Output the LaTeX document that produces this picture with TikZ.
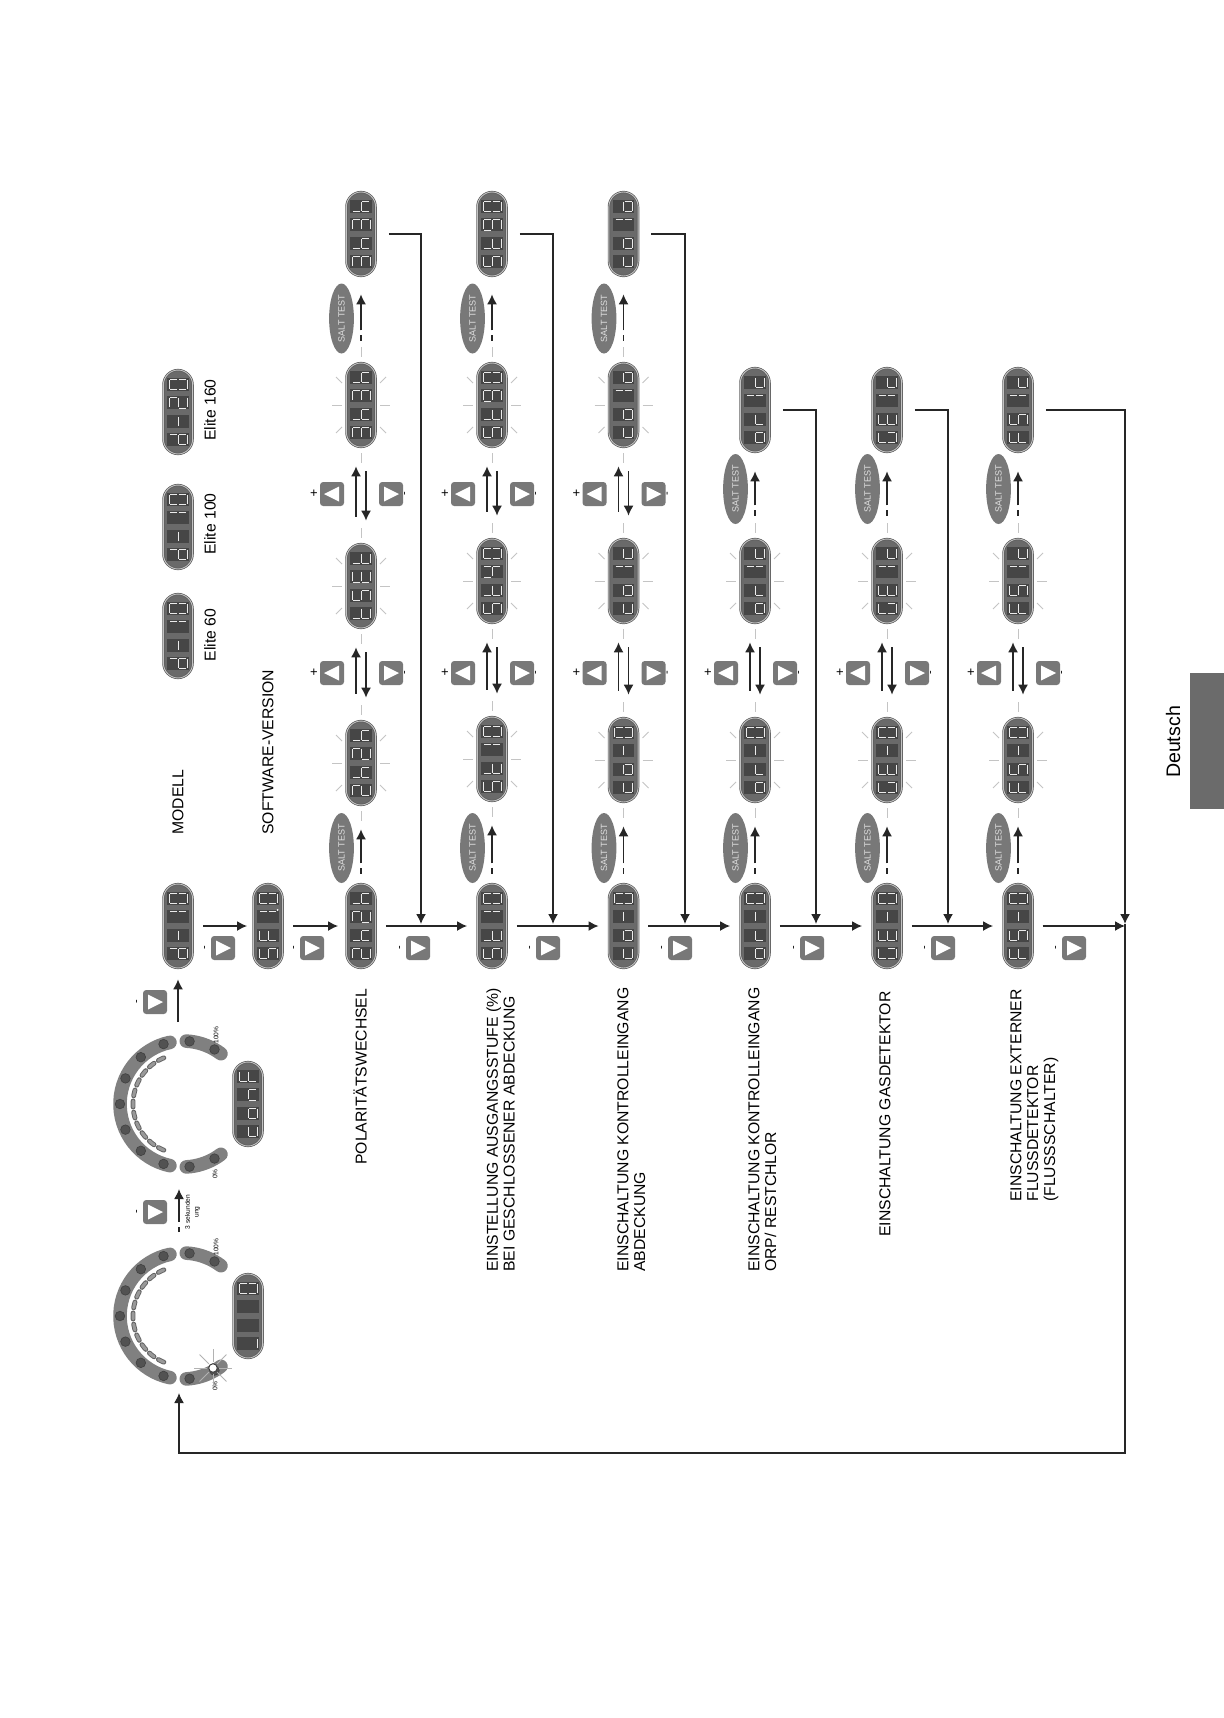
\documentclass[tikz,border=0pt]{standalone}
\usepackage{fontspec}
\setmainfont{Liberation Sans}
\usetikzlibrary{arrows.meta,shapes.geometric}

\definecolor{dispedge}{HTML}{5A5A5A}
\definecolor{dispring}{HTML}{C4C4C4}
\definecolor{dispbody}{HTML}{6A6A6A}
\definecolor{dispcell}{HTML}{464646}
\definecolor{btngrey}{HTML}{787878}
\definecolor{bandgrey}{HTML}{808080}
\definecolor{raygrey}{HTML}{C4C4C4}

\tikzset{
  dispnode/.style={rectangle,draw=dispedge,double=dispring,double distance=0.45pt,line width=0.35pt,
    fill=dispbody,rounded corners=7.4pt,minimum width=14.6pt,minimum height=42pt,inner sep=0pt},
  segline/.style={draw=white!92!black,line width=0.5pt},
  flashray/.style={draw=raygrey,line width=0.5pt},
  flowline/.style={-{Latex[length=5pt,width=5pt]},line width=0.75pt,draw=black!85},
  btnbox/.style={rectangle,fill=btngrey,rounded corners=1.6pt,minimum width=12pt,minimum height=12pt,inner sep=0pt},
  ticksym/.style={inner sep=0pt,font=\fontsize{5.5}{6}\selectfont},
  saltbtn/.style={ellipse,fill=btngrey,text=white!88!black,minimum width=35pt,minimum height=12.4pt,inner sep=0pt,
    rotate=90,font=\fontsize{4.5}{5}\selectfont},
  labeltext/.style={rotate=90,inner sep=0pt,align=left,font=\fontsize{7.87}{8.4}\selectfont},
  tinytext/.style={rotate=90,inner sep=0pt,align=center,font=\fontsize{3.3}{4.4}\selectfont},
  dialdot/.style={fill=black!68,draw=black!75,line width=0.3pt},
  dialband/.style={draw=bandgrey,line width=6.8pt,line cap=round}
}

% one segment of a digit; the page is turned, so the top of a digit points left
\def\sega{\draw[segline] (-9,-4.4) -- (-9,4.4);}
\def\segb{\draw[segline] (-8,-5.2) -- (-1,-5.2);}
\def\segc{\draw[segline] (1,-5.2) -- (8,-5.2);}
\def\segd{\draw[segline] (9,-4.4) -- (9,4.4);}
\def\sege{\draw[segline] (1,5.2) -- (8,5.2);}
\def\segf{\draw[segline] (-8,5.2) -- (-1,5.2);}
\def\segg{\draw[segline] (0,-4.4) -- (0,4.4);}
\newcommand{\segrun}[1]{\ifx#1\relax\else\csname seg#1\endcsname\expandafter\segrun\fi}

\def\sgzero{abcdef}
\def\sgone{bc}
\def\sgtwo{abged}
\def\sgthree{abgcd}
\def\sgfour{fgbc}
\def\sgfive{afgcd}
\def\sgnine{abcdfg}
\def\sgdash{g}
\def\sgE{afedg}
\def\sgF{afeg}
\def\sgG{afedc}
\def\sgh{fegc}
\def\sgt{fegd}
\def\sgd{bcdeg}
\def\sgc{ged}
\def\sgo{gcde}
\def\sgn{gec}
\def\sgr{eg}
\def\sgnone{}

\newcommand{\dcell}[3]{%
  \fill[dispcell] ({#1-10.6},{#2-6.4}) rectangle ({#1+10.6},{#2+6.4});
  \begin{scope}[shift={(#1,#2)}]\expandafter\segrun#3\relax\end{scope}}
\newcommand{\dispat}[7]{%
  \node[dispnode] (#1) at (#2,#3) {};
  \dcell{#2}{#3+27.5}{#4}\dcell{#2}{#3+9.2}{#5}\dcell{#2}{#3-9.2}{#6}\dcell{#2}{#3-27.5}{#7}}
\newcommand{\flashat}[7]{%
  \begin{scope}[shift={(#2,#3)}]
    \foreach \ux/\uy/\vx/\vy in {-29/0/-19/0,19/0/29/0,0/-58/0/-48,0/48/0/58,-25/-28/-19/-22,25/-28/19/-22,-25/28/-19/22,25/28/19/22}
      \draw[flashray] (\ux,\uy) -- (\vx,\vy);
  \end{scope}
  \dispat{#1}{#2}{#3}{#4}{#5}{#6}{#7}}

\newcommand{\btnright}[3]{%
  \node[btnbox] (#1) at (#2,#3) {};
  \fill[white] ({#2-7},{#3-7.5}) -- ({#2+8},#3) -- ({#2-7},{#3+7.5}) -- cycle;}
\newcommand{\btnleft}[3]{%
  \node[btnbox] (#1) at (#2,#3) {};
  \fill[white] ({#2+7},{#3-7.5}) -- ({#2-8},#3) -- ({#2+7},{#3+7.5}) -- cycle;}
% next-step button with its minus mark on the left
\newcommand{\nextbtn}[3]{%
  \btnright{#1}{#2}{#3}
  \node[ticksym,rotate=90] (#1tick) at ({#2-17},#3) {-};}
% up and down keys and the two arrows between two flashing displays
\newcommand{\gapstep}[4]{%
  \btnleft{#1#2up}{#3-29}{#4}
  \btnright{#1#2dn}{#3+30}{#4}
  \node[ticksym,font=\fontsize{6.5}{7}\selectfont] (#1#2plus) at ({#3-47},#4) {+};
  \node[ticksym,rotate=90] (#1#2minus) at ({#3+45},#4) {-};
  \draw[flowline,shorten <=13.5pt,shorten >=9.5pt] ([xshift=-2.5pt]#1.north) -- ([xshift=-2.5pt]#2.south);
  \draw[flowline,shorten <=12pt,shorten >=11.5pt] ([xshift=2.5pt]#2.south) -- ([xshift=2.5pt]#1.north);}
\newcommand{\saltstep}[6]{%
  \node[saltbtn] (#1#2salt) at ({#3-19.5},#4) {SALT TEST};
  \draw[flowline,dash pattern=on 2.6pt off 2.6pt on 40pt,shorten <=#5,shorten >=#6] (#1.north) -- (#2.south);}

\newcommand{\dialring}[1]{%
  \begin{scope}[shift={(183,#1)}]
    \draw[dialband] plot[domain=-78:78,samples=32] ({-63*cos(\x)},{-63*sin(\x)});
    \draw[dialband] plot[domain=93:127,samples=10] ({-63*cos(\x)},{-63*sin(\x)});
    \draw[dialband] plot[domain=-93:-127,samples=10] ({-63*cos(\x)},{-63*sin(\x)});
    \foreach \a in {-120,-96,-72,-48,-24,0,24,48,72,96,120}
      \filldraw[dialdot] ({-63*cos(\a)},{-63*sin(\a)}) circle (4.8);
    \foreach \a in {-64,-51.2,-38.4,-25.6,-12.8,0,12.8,25.6,38.4,51.2,64} {
      \draw[black!62,line width=2.4pt,line cap=round] plot[domain=\a-3.5:\a+3.5,samples=4] ({-50*cos(\x)},{-50*sin(\x)});
      \draw[black!40,line width=1.5pt,line cap=round] plot[domain=\a-3.5:\a+3.5,samples=4] ({-50*cos(\x)},{-50*sin(\x)});
    }
    \node[tinytext] (pctlow#1) at (32,70) {0\%};
    \node[tinytext] (pcthigh#1) at (33,-69) {100\%};
  \end{scope}}

\begin{document}
\begin{tikzpicture}[x=0.5pt,y=-0.5pt]
\useasboundingbox (0,0) rectangle (1224,1718);
\fill[white] (0,0) rectangle (1224,1718);

% language tab
\fill[black!58] (1190,673) rectangle (1224,809);
\node[rotate=90,inner sep=0pt,font=\fontsize{9.8}{11}\selectfont] (langtab) at (1173,742) {Deutsch};

% model variants
\dispat{elitea}{178}{636}{\sgd}{\sgdash}{\sgone}{\sgzero}
\dispat{eliteb}{178}{527}{\sgd}{\sgdash}{\sgone}{\sgzero}
\dispat{elitec}{178}{412}{\sgd}{\sgdash}{\sgtwo}{\sgzero}
\node[labeltext] (elitealab) at (210,635) {Elite 60};
\node[labeltext] (elitelabb) at (210,524) {Elite 100};
\node[labeltext] (elitelabc) at (210,410) {Elite 160};
\node[labeltext,anchor=west] (modellab) at (178,835) {MODELL};
\node[labeltext,anchor=west] (softlab) at (268,835) {SOFTWARE-VERSION};

% main column
\dispat{m1}{178}{926}{\sgd}{\sgdash}{\sgone}{\sgzero}
\dispat{m2}{268}{926}{\sgfive}{\sgF}{\sgone}{\sgzero}
\fill[white] (277.7,910) circle (1);
\dispat{m3}{361}{926}{\sgtwo}{\sgh}{\sgtwo}{\sgh}
\dispat{m4}{492}{926}{\sgfive}{\sgt}{\sgone}{\sgzero}
\dispat{m5}{623.5}{926}{\sgc}{\sgo}{\sgdash}{\sgzero}
\dispat{m6}{755}{926}{\sgo}{\sgr}{\sgdash}{\sgzero}
\dispat{m7}{887}{926}{\sgG}{\sgE}{\sgdash}{\sgzero}
\dispat{m8}{1018}{926}{\sgF}{\sgfive}{\sgdash}{\sgzero}
\nextbtn{b1}{223}{948}
\nextbtn{b2}{312}{948}
\nextbtn{b3}{418}{948}
\nextbtn{b4}{548}{948}
\nextbtn{b5}{680}{948}
\nextbtn{b6}{812}{948}
\nextbtn{b7}{943}{948}
\nextbtn{b8}{1074}{948}
\draw[flowline,shorten <=5.2pt,shorten >=3pt] (m1.east) -- (m2.west);
\draw[flowline,shorten <=5.2pt,shorten >=4pt] (m2.east) -- (m3.west);
\draw[flowline,shorten <=5pt,shorten >=5pt] (m3.east) -- (m4.west);
\draw[flowline,shorten <=5pt,shorten >=5pt] (m4.east) -- (m5.west);
\draw[flowline,shorten <=5pt,shorten >=5pt] (m5.east) -- (m6.west);
\draw[flowline,shorten <=5pt,shorten >=5pt] (m6.east) -- (m7.west);
\draw[flowline,shorten <=5pt,shorten >=5pt] (m7.east) -- (m8.west);
\coordinate (t3) at (421,924);
\coordinate (t4) at (553,924);
\coordinate (t5) at (685,924);
\coordinate (t6) at (816,924);
\coordinate (t7) at (948,924);
\coordinate (t8) at (1125,924);
\coordinate (feedin) at (1125,926);
\coordinate (fbbot) at (179,1453);
\draw[flowline,shorten <=4.8pt] (m8.east) -- (feedin);

% the two dials
\dialring{1316}
\dialring{1104}
\foreach \a in {0,45,...,315}
  \draw[draw=black!30,line width=0.45pt] ({213+6*cos(\a)},{1368+6*sin(\a)}) -- ({213+19*cos(\a)},{1368+19*sin(\a)});
\filldraw[fill=white,draw=black!75,line width=0.5pt] (213,1368) circle (4.3);
\dispat{diala}{248}{1316}{d}{\sgnone}{\sgnone}{\sgzero}
\dispat{dialb}{248}{1104}{\sgc}{\sgo}{\sgn}{\sgF}
\nextbtn{dialabtn}{155}{1212}
\nextbtn{dialbbtn}{155}{1002}
\node[tinytext] (holdlab) at (192.5,1212) {3 sekunden\\ung};
\coordinate (dialain) at (179,1393);
\coordinate (dialaout) at (179,1232);
\coordinate (dialbin) at (179,1189);
\coordinate (dialbout) at (178,1022);
\draw[flowline,dash pattern=on 2.6pt off 2.6pt on 40pt] (dialaout) -- (dialbin);
\draw[flowline,shorten >=5.5pt] (dialbout) -- (m1.south);

% polarity row
\flashat{r3a}{361}{763}{\sgtwo}{\sgh}{\sgtwo}{\sgh}
\flashat{r3b}{361}{586}{\sgt}{\sgfive}{\sgE}{\sgt}
\flashat{r3c}{361}{405}{\sgthree}{\sgh}{\sgthree}{\sgh}
\dispat{r3d}{361}{234}{\sgthree}{\sgh}{\sgthree}{\sgh}
\saltstep{m3}{r3a}{361}{848}{5pt}{12pt}
\gapstep{r3a}{r3b}{361}{673}
\gapstep{r3b}{r3c}{361}{494}
\saltstep{r3c}{r3d}{361}{318.5}{11pt}{9pt}
\draw[flowline,shorten <=6.5pt] (r3d.east) -| (t3);
\node[labeltext,anchor=west] (lab3) at (360,1165) {POLARITÄTSWECHSEL};

% output level row
\flashat{r4a}{492}{759}{\sgfive}{\sgt}{\sgone}{\sgzero}
\flashat{r4b}{492}{581}{\sgfive}{\sgt}{\sgfour}{\sgzero}
\flashat{r4c}{492}{405}{\sgfive}{\sgt}{\sgnine}{\sgzero}
\dispat{r4d}{492}{234}{\sgfive}{\sgt}{\sgnine}{\sgzero}
\saltstep{m4}{r4a}{492}{848}{5pt}{12pt}
\gapstep{r4a}{r4b}{492}{673}
\gapstep{r4b}{r4c}{492}{494}
\saltstep{r4c}{r4d}{492}{318.5}{11pt}{9pt}
\draw[flowline,shorten <=6.5pt] (r4d.east) -| (t4);
\node[labeltext,anchor=north west] (lab4) at (486,1272) {EINSTELLUNG AUSGANGSSTUFE (\%)\\BEI GESCHLOSSENER ABDECKUNG};

% cover input row
\flashat{r5a}{623.5}{760}{\sgc}{\sgo}{\sgdash}{\sgzero}
\flashat{r5b}{623.5}{581}{\sgc}{\sgo}{\sgone}{\sgc}
\flashat{r5c}{623.5}{405}{\sgc}{\sgo}{\sgone}{\sgo}
\dispat{r5d}{623.5}{234}{\sgc}{\sgo}{\sgone}{\sgo}
\saltstep{m5}{r5a}{623.5}{848}{5pt}{12pt}
\gapstep{r5a}{r5b}{623.5}{673}
\gapstep{r5b}{r5c}{623.5}{494}
\saltstep{r5c}{r5d}{623.5}{318.5}{11pt}{9pt}
\draw[flowline,shorten <=6.5pt] (r5d.east) -| (t5);
\node[labeltext,anchor=north west] (lab5) at (617,1272) {EINSCHALTUNG KONTROLLEINGANG\\ABDECKUNG};

% orp row
\flashat{r6a}{755}{760}{\sgo}{\sgr}{\sgdash}{\sgzero}
\flashat{r6b}{755}{581}{\sgo}{\sgr}{\sgone}{\sgc}
\dispat{r6c}{755}{410}{\sgo}{\sgr}{\sgone}{\sgc}
\saltstep{m6}{r6a}{755}{848}{5pt}{12pt}
\gapstep{r6a}{r6b}{755}{673}
\saltstep{r6b}{r6c}{755}{489}{11.5pt}{9.5pt}
\draw[flowline,shorten <=6.5pt] (r6c.east) -| (t6);
\node[labeltext,anchor=north west] (lab6) at (748,1272) {EINSCHALTUNG KONTROLLEINGANG\\ORP/ RESTCHLOR};

% gas detector row
\flashat{r7a}{887}{760}{\sgG}{\sgE}{\sgdash}{\sgzero}
\flashat{r7b}{887}{581}{\sgG}{\sgE}{\sgone}{\sgc}
\dispat{r7c}{887}{410}{\sgG}{\sgE}{\sgone}{\sgc}
\saltstep{m7}{r7a}{887}{848}{5pt}{12pt}
\gapstep{r7a}{r7b}{887}{673}
\saltstep{r7b}{r7c}{887}{489}{11.5pt}{9.5pt}
\draw[flowline,shorten <=6.5pt] (r7c.east) -| (t7);
\node[labeltext,anchor=west] (lab7) at (885,1237) {EINSCHALTUNG GASDETEKTOR};

% flow switch row
\flashat{r8a}{1018}{760}{\sgF}{\sgfive}{\sgdash}{\sgzero}
\flashat{r8b}{1018}{581}{\sgF}{\sgfive}{\sgone}{\sgc}
\dispat{r8c}{1018}{410}{\sgF}{\sgfive}{\sgone}{\sgc}
\saltstep{m8}{r8a}{1018}{848}{5pt}{12pt}
\gapstep{r8a}{r8b}{1018}{673}
\saltstep{r8b}{r8c}{1018}{489}{11.5pt}{9.5pt}
\draw[flowline,shorten <=6.5pt] (r8c.east) -| (t8);
\node[labeltext,anchor=north west] (lab8) at (1010,1202) {EINSCHALTUNG EXTERNER\\FLUSSDETEKTOR\\(FLUSSSCHALTER)};

% back to the first dial
\draw[flowline] (t8) -- (t8 |- fbbot) -- (fbbot) -- (dialain);
\end{tikzpicture}
\end{document}
